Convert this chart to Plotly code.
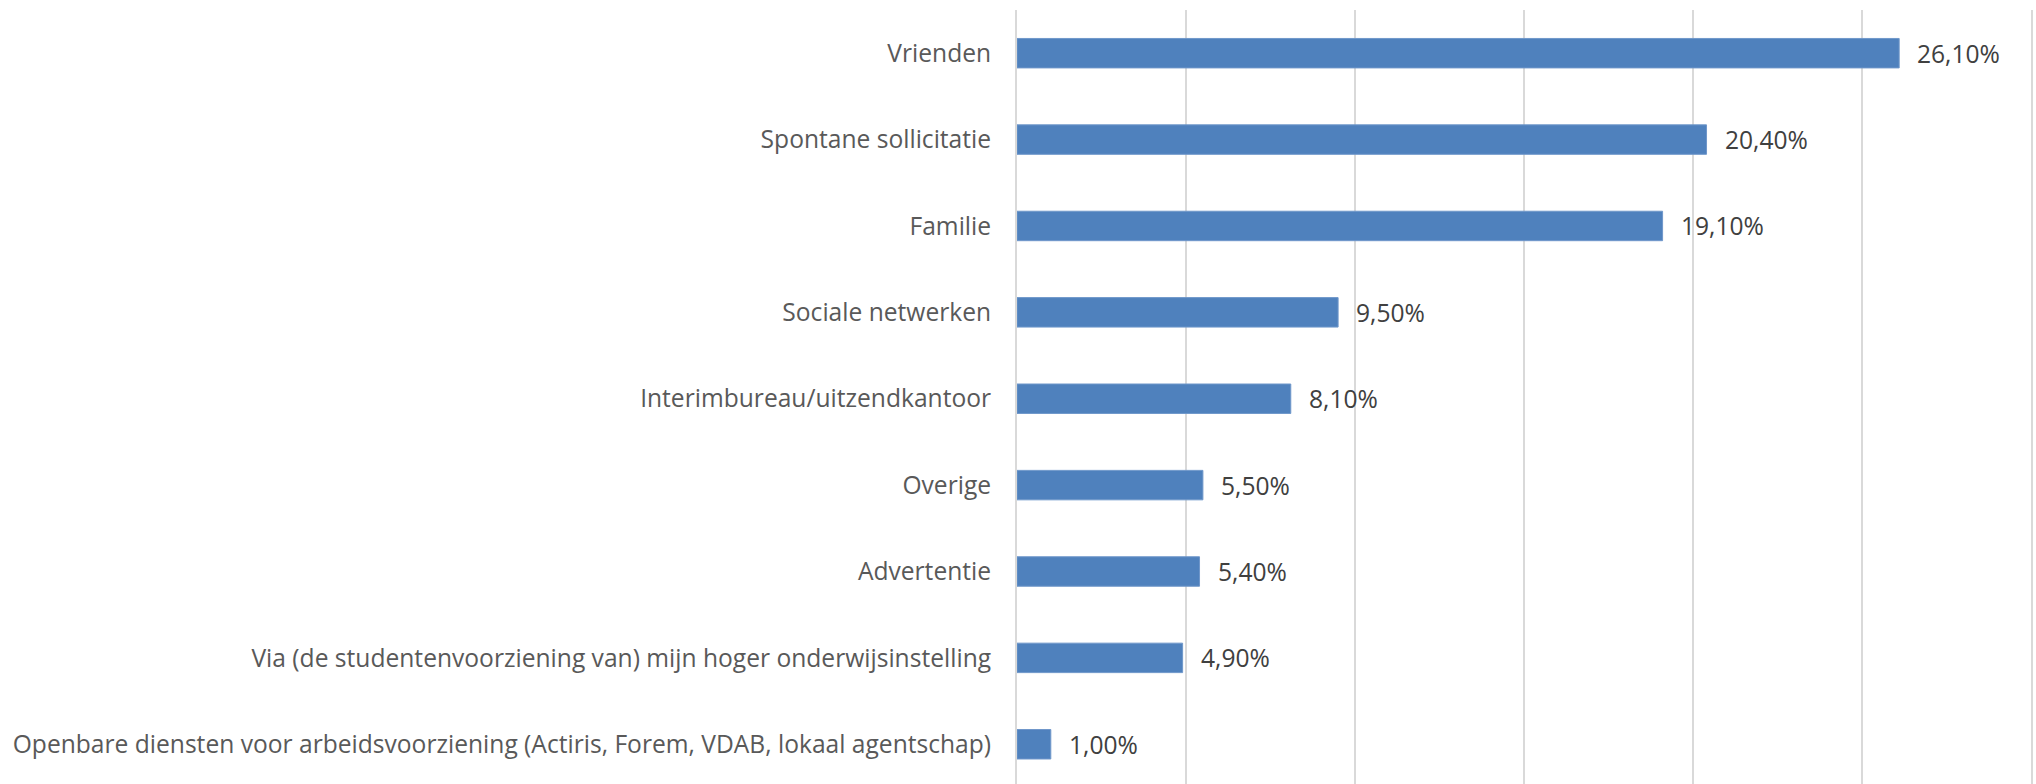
import plotly.graph_objects as go

# Survey answers: how the student found their job (share of respondents, %)
categories = [
    "Vrienden",
    "Spontane sollicitatie",
    "Familie",
    "Sociale netwerken",
    "Interimbureau/uitzendkantoor",
    "Overige",
    "Advertentie",
    "Via (de studentenvoorziening van) mijn hoger onderwijsinstelling",
    "Openbare diensten voor arbeidsvoorziening (Actiris, Forem, VDAB, lokaal agentschap)",
]
values = [26.1, 20.4, 19.1, 9.5, 8.1, 5.5, 5.4, 4.9, 1.0]
x_ticks = [0, 5, 10, 15, 20, 25, 30]


def pct(v):
    return f"{v:.2f}".replace(".", ",") + "%"


BAR = "#4F81BD"
GRID = "#D9D9D9"
FONT = "Open Sans, Liberation Sans, sans-serif"
SIZE = 24.6

fig = go.Figure(
    go.Bar(
        x=values,
        y=categories,
        orientation="h",
        marker=dict(color=BAR, line=dict(color="#6F97CA", width=1)),
        hoverinfo="skip",
    )
)

# value labels to the right of each bar
for cat, v in zip(categories, values):
    fig.add_annotation(
        x=v, y=cat, text=pct(v), showarrow=False,
        xanchor="left", yanchor="middle", xshift=16,
        font=dict(family=FONT, size=SIZE, color="#404040"),
    )

fig.update_layout(
    width=2036,
    height=784,
    margin=dict(l=1017, r=5, t=9.5, b=0, pad=0),
    paper_bgcolor="white",
    plot_bgcolor="white",
    bargap=0.659,
    showlegend=False,
    font=dict(family=FONT, size=SIZE, color="#595959"),
)
fig.update_xaxes(
    range=[0, 30],
    tickvals=x_ticks,
    showticklabels=False,
    showgrid=True,
    gridcolor=GRID,
    gridwidth=2,
    zeroline=False,
    showline=False,
    fixedrange=True,
)
# the category axis line doubles as the 0 gridline; mirrored for the 30 one
fig.update_yaxes(
    type="category",
    categoryorder="array",
    categoryarray=categories,
    range=[8.46, -0.5],
    showgrid=False,
    showline=True,
    linecolor=GRID,
    linewidth=2,
    mirror=True,
    zeroline=False,
    ticks="",
    ticklabelstandoff=19,
    tickfont=dict(family=FONT, size=SIZE, color="#595959"),
    fixedrange=True,
)

fig.write_html("out.html")
